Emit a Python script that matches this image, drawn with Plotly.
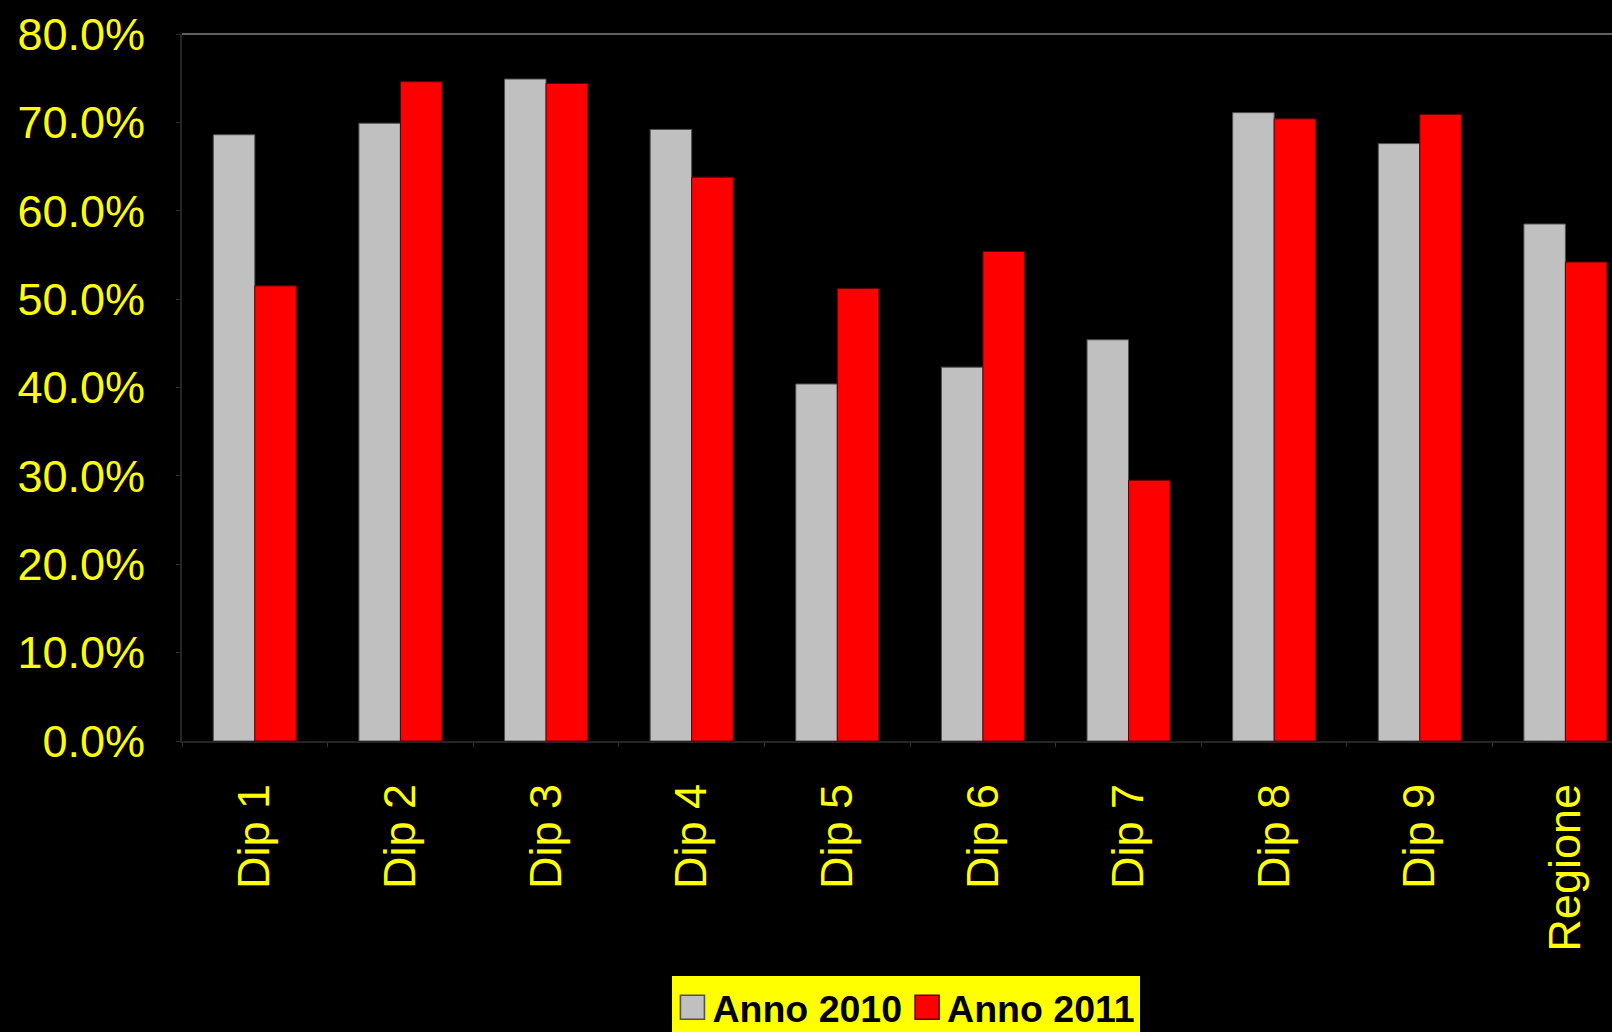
import plotly.graph_objects as go

categories = ["Dip 1", "Dip 2", "Dip 3", "Dip 4", "Dip 5", "Dip 6", "Dip 7", "Dip 8", "Dip 9", "Regione"]
anno_2010 = [0.686, 0.699, 0.749, 0.692, 0.404, 0.423, 0.454, 0.711, 0.676, 0.585]
anno_2011 = [0.515, 0.746, 0.744, 0.638, 0.512, 0.554, 0.295, 0.704, 0.709, 0.542]
series_names = ["Anno 2010", "Anno 2011"]
y_ticks = [0, 0.1, 0.2, 0.3, 0.4, 0.5, 0.6, 0.7, 0.8]

FONT = "Liberation Sans, Arial, sans-serif"

fig = go.Figure()
fig.add_trace(go.Bar(
    x=categories, y=anno_2010, name=series_names[0],
    marker=dict(color="#C0C0C0", line=dict(color="#505050", width=1)),
))
fig.add_trace(go.Bar(
    x=categories, y=anno_2011, name=series_names[1],
    marker=dict(color="#FF0000", line=dict(color="#600000", width=1)),
))

# top border of the plot area
fig.add_shape(type="line", xref="paper", yref="paper", x0=0, x1=1, y0=1, y1=1,
              line=dict(color="#606060", width=2))

fig.update_layout(
    width=1612, height=1032,
    autosize=False,
    paper_bgcolor="black", plot_bgcolor="black",
    margin=dict(l=182, r=0, t=34, b=291, autoexpand=False),
    barmode="group", bargap=0.43, bargroupgap=0,
    showlegend=True,
    legend=dict(
        orientation="h", x=0.5066, xanchor="center", y=-0.333, yanchor="top",
        bgcolor="#FFFF00", font=dict(family=FONT, size=37.5, color="black", weight="bold"),
        borderwidth=0, itemwidth=30,
    ),
    xaxis=dict(
        type="category", range=[-0.5, 9.32],
        tickangle=-90, tickson="boundaries", ticks="outside", ticklen=4,
        tickcolor="#303030", showline=True, linecolor="#252525", linewidth=2,
        showgrid=False, zeroline=False,
        tickfont=dict(family=FONT, size=45, color="#FFFF00"),
        ticklabelstandoff=23,
    ),
    yaxis=dict(
        range=[0, 0.8], tickvals=y_ticks, tickformat=".1%",
        ticks="outside", ticklen=4, tickcolor="#303030",
        showline=True, linecolor="#252525", linewidth=2,
        showgrid=False, zeroline=False,
        tickfont=dict(family=FONT, size=45, color="#FFFF00"),
        ticklabelstandoff=22,
    ),
)

post = """
document.body.style.margin = '0';
document.body.style.background = 'black';
var gd = document.getElementById('{plot_id}');
gd.querySelectorAll('.legendpoints path').forEach(function(p) {
  var t = p.getAttribute('transform') || '';
  p.setAttribute('transform', t + ' scale(2)');
  p.style.strokeWidth = '0.8px';
});
"""

fig.write_html("out.html", post_script=post, config={"displayModeBar": False})
